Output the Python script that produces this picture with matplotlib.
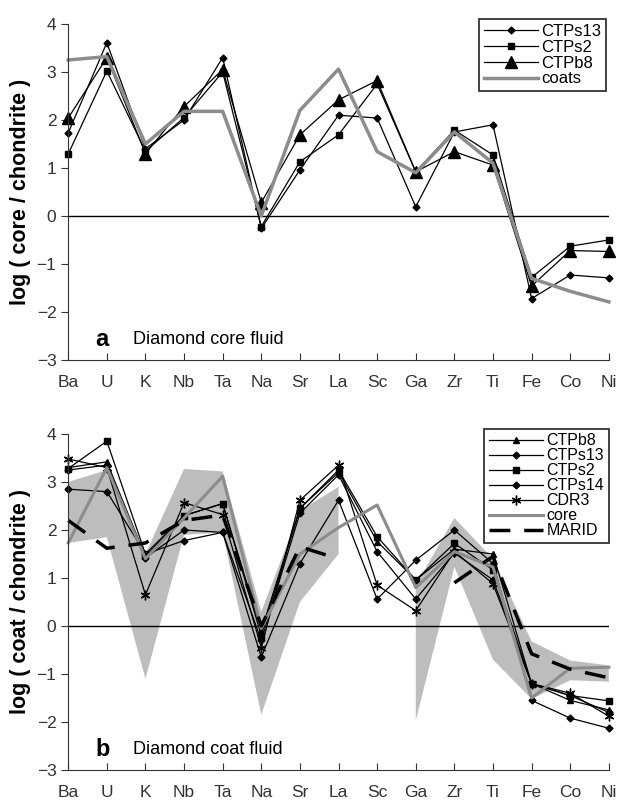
import numpy as np
import matplotlib
matplotlib.use("Agg")
import matplotlib.pyplot as plt

plt.rcParams['font.family'] = ['Liberation Sans', 'DejaVu Sans']

elements = ['Ba', 'U', 'K', 'Nb', 'Ta', 'Na', 'Sr', 'La', 'Sc', 'Ga', 'Zr', 'Ti', 'Fe', 'Co', 'Ni']

# panel a: diamond core fluid
core_ctps13 = [1.73, 3.61, 1.40, 2.00, 3.30, -0.26, 0.96, 2.10, 2.04, 0.19, 1.75, 1.90, -1.72, -1.23, -1.29]
core_ctps2 = [1.29, 3.02, 1.35, 2.05, 3.00, -0.22, 1.13, 1.69, 2.75, 0.92, 1.79, 1.27, -1.28, -0.63, -0.50]
core_ctpb8 = [2.04, 3.30, 1.30, 2.28, 3.05, 0.28, 1.69, 2.42, 2.82, 0.92, 1.34, 1.06, -1.46, -0.72, -0.74]
coats_avg = [3.25, 3.32, 1.50, 2.18, 2.18, 0.00, 2.20, 3.06, 1.34, 0.90, 1.75, 1.10, -1.30, -1.57, -1.79]

# panel b: diamond coat fluid
coat_ctpb8 = [3.30, 3.42, 1.45, 2.30, 2.55, -0.10, 2.45, 3.20, 1.76, 0.96, 1.60, 1.50, -1.20, -1.55, -1.75]
coat_ctps13 = [3.25, 3.35, 1.42, 2.00, 1.95, -0.30, 2.35, 3.15, 1.55, 0.56, 1.52, 0.96, -1.20, -1.45, -1.80]
coat_ctps2 = [3.28, 3.85, 1.50, 2.30, 2.55, -0.20, 2.45, 3.25, 1.86, 0.96, 1.72, 1.17, -1.20, -1.45, -1.56]
coat_ctps14 = [2.85, 2.80, 1.50, 1.78, 1.95, -0.65, 1.30, 2.62, 0.56, 1.37, 2.00, 1.30, -1.55, -1.92, -2.13]
coat_cdr3 = [3.48, 3.30, 0.65, 2.57, 2.32, -0.45, 2.62, 3.35, 0.85, 0.32, 1.55, 0.88, -1.20, -1.40, -1.88]
core_avg = [1.73, 3.30, 1.40, 2.25, 3.12, -0.05, 1.50, 2.05, 2.52, 0.80, 1.55, 1.23, -1.50, -0.88, -0.86]
marid = [2.20, 1.62, 1.73, 2.20, 2.31, 0.00, 1.65, 1.40, np.nan, np.nan, 0.90, 1.45, -0.58, -0.90, -1.08]
band_upper = [3.00, 3.25, 1.50, 3.27, 3.22, 0.30, 2.40, 2.90, np.nan, 0.85, 2.25, 1.40, -0.32, -0.72, -0.82]
band_lower = [1.73, 1.85, -1.10, 1.90, 1.95, -1.85, 0.50, 1.50, np.nan, -1.97, 1.23, -0.70, -1.52, -1.13, -1.16]

x = np.arange(len(elements))
GRAY = '#8c8c8c'


def style_axes(ax, ylabel, letter, title):
    ax.set_xlim(0, len(elements) - 1)
    ax.set_ylim(-3, 4)
    ax.set_xticks(x)
    ax.set_xticklabels(elements)
    ax.set_yticks(range(-3, 5))
    ax.spines['top'].set_visible(False)
    ax.spines['right'].set_visible(False)
    ax.spines['left'].set_color('#333333')
    ax.spines['bottom'].set_color('#333333')
    ax.tick_params(axis='x', direction='in', length=5, pad=11, labelsize=12.5, colors='#333333')
    ax.tick_params(axis='y', direction='out', length=5, labelsize=12.5, colors='#333333')
    ax.axhline(0, color='black', lw=1.0, zorder=1)
    ax.set_ylabel(ylabel, fontsize=15.5, fontweight='bold', labelpad=4)
    ax.text(0.7, -2.58, letter, fontsize=17, fontweight='bold', va='center')
    ax.text(1.68, -2.58, title, fontsize=13, va='center')


fig = plt.figure(figsize=(6.2, 8.1), dpi=100)
ax1 = fig.add_axes([0.110, 0.5556, 0.872, 0.4148])
ax2 = fig.add_axes([0.110, 0.0494, 0.872, 0.4148])

# panel a
ax1.plot(x, core_ctps13, color='black', lw=0.9, marker='D', ms=3.5, label='CTPs13', clip_on=False)
ax1.plot(x, core_ctps2, color='black', lw=0.9, marker='s', ms=4.5, label='CTPs2', clip_on=False)
ax1.plot(x, core_ctpb8, color='black', lw=0.9, marker='^', ms=8, label='CTPb8', clip_on=False)
ax1.plot(x, coats_avg, color=GRAY, lw=2.5, label='coats', clip_on=False)
style_axes(ax1, 'log ( core / chondrite )', 'a', 'Diamond core fluid')
leg1 = ax1.legend(loc='upper right', bbox_to_anchor=(1.01, 1.04), fontsize=12, frameon=True,
                  fancybox=False, edgecolor='black', handlelength=3.2, handletextpad=0.2,
                  labelspacing=0.05, borderpad=0.3)
leg1.get_frame().set_linewidth(1.3)

# panel b
ax2.fill_between(x, band_lower, band_upper, color='#bdbdbd', lw=0, zorder=0)
ax2.plot(x, coat_ctpb8, color='black', lw=0.9, marker='^', ms=5, label='CTPb8', clip_on=False)
ax2.plot(x, coat_ctps13, color='black', lw=0.9, marker='D', ms=3.5, label='CTPs13', clip_on=False)
ax2.plot(x, coat_ctps2, color='black', lw=0.9, marker='s', ms=4.5, label='CTPs2', clip_on=False)
ax2.plot(x, coat_ctps14, color='black', lw=0.9, marker='D', ms=3.5, label='CTPs14', clip_on=False)
ax2.plot(x, coat_cdr3, color='black', lw=0.9, marker=(6, 2, 0), ms=7, mew=1.0, label='CDR3', clip_on=False)
ax2.plot(x, core_avg, color=GRAY, lw=2.2, label='core', clip_on=False)
ax2.plot(x, marid, color='black', lw=2.5, dashes=(6, 4), label='MARID', clip_on=False)
style_axes(ax2, 'log ( coat / chondrite )', 'b', 'Diamond coat fluid')
leg2 = ax2.legend(loc='upper right', bbox_to_anchor=(1.015, 1.04), fontsize=11.5, frameon=True,
                  fancybox=False, edgecolor='black', handlelength=3.4, handletextpad=0.2,
                  labelspacing=0.0, borderpad=0.3)
leg2.get_frame().set_linewidth(1.3)

fig.savefig('out.png', dpi=100)
